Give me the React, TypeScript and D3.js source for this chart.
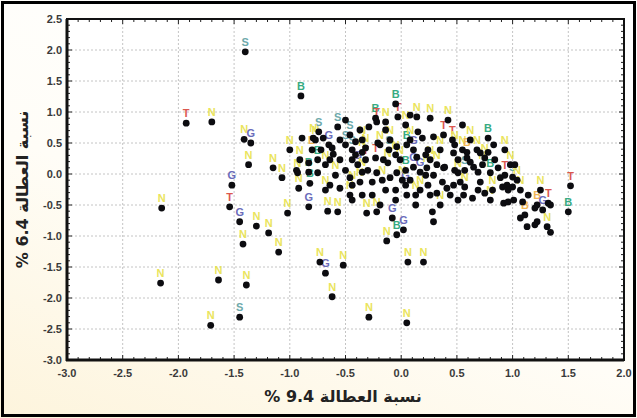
import React from "react";
import * as d3 from "d3";

// scatter values (x = 9.4 %, y = 6.4 %)
const ptX = [
  -1.4, -0.9, -1.93, -1.7, -1.41, -1.35, -1.37, -1.15, -1.07, -1.52, -1.54, -1.45, -1.3, -1.19, -1.1, -1.42,
  -1.39, -1.45, -1.64, -1.71, -2.16, -2.15, -0.92, -0.82, -0.83, -0.05, -0.03, -0.23, -0.22, -0.57, -0.29, -0.74,
  -0.79, -0.46, -0.35, -0.19, -0.1, 0.14, 0.15, 0.29, 0.38, 0.42, 0.46, -0.77, -0.7, -0.65, -0.62, -0.61,
  -0.5, -0.41, -0.44, -0.41, -0.35, -0.23, -0.21, -0.11, -0.04, 0.05, 0.11, 0.19, 0.22, 0.32, 0.38, 0.47,
  -0.39, -0.44, -0.32, -0.22, -0.12, -0.04, 0.04, 0.11, 0.14, 0.23, 0.29, 0.37, 0.47, 0.41, -0.83, -0.75,
  -0.8, -0.83, -0.93, -0.75, -0.59, -0.55, -0.44, -0.37, -0.17, -0.14, 0.04, 0.05, 0.24, 0.26, 0.32, -0.66,
  -0.57, -0.44, -0.35, -0.31, -0.22, -0.08, -0.04, 0.02, -0.13, 0.06, 0.2, 0.28, 0.29, -0.52, -0.68, -0.62,
  -0.29, 0.05, -0.73, -1.02, 0.55, 0.59, 0.59, 0.62, 0.65, 0.68, 0.71, 0.78, 0.78, 0.83, 0.51, 0.57,
  0.48, 0.39, 0.53, 0.57, 0.56, 0.64, 0.69, 0.71, 0.75, 0.82, 0.8, 0.89, 0.91, 0.93, 0.98, 1.0,
  0.95, 1.0, 0.96, 1.07, 0.92, 0.96, 1.01, 1.09, 1.07, 1.13, 1.11, 1.22, 1.27, 1.32, 1.2, 1.22,
  1.2, 1.34, 1.31, 1.34, 1.52, 1.5, -0.55, -0.68, -0.5, -0.3, -0.1, -0.01, 0.08, 0.17, -0.05, 0.13,
  -0.26, -0.64, -0.37, -0.14, 0.04, 0.24, 0.35, 0.51, 0.73, 0.84, 0.44, 0.22,
  -0.72, -0.91, -0.55, -0.32, -0.16, -0.05, 0.08, 0.26, 0.17, 0.48, 0.62, 0.75, 0.87, 1.04, 1.14, -0.46,
  -0.35, -0.26, 0.01, -0.05, 0.13, 0.35, 0.51, 0.69, 0.8, -0.64, -0.68, -0.46, -0.19, -0.89, -1.0, -0.94,
  -0.5, 0.08, -0.14, 0.26, 0.55, 0.93, 1.02, 1.25,
];
const ptY = [
  1.97, 1.26, 0.82, 0.84, 0.56, 0.5, 0.15, 0.1, -0.06, -0.18, -0.53, -0.77, -0.84, -0.95, -1.26, -1.13,
  -1.79, -2.31, -1.71, -2.44, -1.76, -0.55, -0.23, -0.15, -0.53, 1.13, 0.92, 0.9, 0.84, 0.76, 0.76, 0.68,
  0.58, 0.63, 0.55, 0.47, 0.55, 0.92, 0.68, 0.6, 0.63, 0.87, 0.55, 0.55, 0.58, 0.47, 0.42, 0.32,
  0.47, 0.52, 0.39, 0.31, 0.35, 0.26, 0.5, 0.39, 0.44, 0.47, 0.39, 0.58, 0.31, 0.15, 0.1, 0.34,
  0.15, 0.23, 0.23, 0.02, 0.18, 0.02, 0.06, 0.11, 0.27, 0.1, -0.02, -0.13, -0.18, -0.23, 0.18, 0.23,
  0.39, 0.03, 0.02, 0.02, -0.02, -0.23, -0.18, -0.13, -0.1, -0.26, -0.18, -0.34, -0.18, -0.34, -0.31, -0.6,
  -0.61, -0.42, -0.34, -0.63, -0.61, -0.71, -0.98, -0.9, -1.08, -1.42, -1.42, -0.61, -0.77, -1.47, -1.6, -1.98,
  -2.31, -2.4, -1.42, -0.63, 0.39, 0.35, 0.26, 0.19, 0.11, 0.39, 0.34, 0.35, 0.58, 0.47, 0.02, 0.06,
  0.06, 0.11, -0.13, -0.21, -0.34, -0.39, 0.03, -0.13, -0.31, -0.26, 0.02, -0.06, -0.21, -0.02, 0.15, -0.05,
  -0.18, -0.21, -0.26, -0.26, -0.47, -0.45, -0.42, -0.45, -0.71, -0.85, -0.66, -0.5, -0.58, -0.47, -0.55, -0.77,
  -0.82, -0.5, -0.85, -0.94, -0.19, -0.61, 0.23, 0.15, 0.06, 0.06, -0.06, 0.23, -0.1, -0.26, -0.42, -0.5,
  -0.34, -0.18, 0.71, 0.71, 0.79, 0.39, 0.39, 0.23, 0.15, 0.23, -0.34, -0.02,
  0.39, 0.23, 0.55, 0.42, 0.23, 0.31, 0.55, 0.23, 0.03, 0.47, 0.55, 0.26, 0.1, -0.1, -0.34, -0.06,
  0.03, -0.13, -0.1, -0.26, -0.34, -0.5, -0.42, -0.26, -0.42, 0.23, -0.26, -0.34, -0.5, 0.58, 0.39, 0.06,
  0.87, 0.95, 0.84, 0.9, 0.79, 0.39, 0.15, -0.26,
];
const ptLabel = [
  "S", "B", "T", "N", "N", "G", "N", "N", "N", "G", "T", "G", "N", "N", "N", "N",
  "N", "S", "N", "N", "N", "N", "N", "B", "G", "B", "T", "B", "T", "S", "", "S",
  "N", "S", "N", "N", "N", "N", "", "", "T", "N", "T", "N", "", "G", "", "",
  "S", "", "S", "", "N", "T", "", "S", "", "B", "G", "", "", "N", "", "",
  "G", "", "T", "", "N", "", "B", "G", "", "N", "", "", "", "", "", "B",
  "E", "B", "N", "", "N", "", "N", "N", "N", "", "G", "", "", "", "", "N",
  "N", "", "", "N", "N", "G", "B", "G", "N", "N", "N", "", "", "N", "G", "N",
  "N", "N", "N", "N", "N", "E", "", "", "", "N", "", "", "B", "", "N", "S",
  "", "", "", "N", "", "", "", "", "", "N", "B", "", "", "T", "N", "S",
  "", "", "", "N", "", "", "", "", "", "", "E", "E", "G", "T", "", "",
  "", "", "N", "", "T", "B", "", "N", "", "", "", "N", "", "N", "", "",
  "", "", "", "", "N", "", "N", "", "N", "", "", "",
  "", "N", "", "N", "", "N", "N", "N", "G", "N", "N", "N", "", "N", "", "",
  "N", "", "N", "", "N", "N", "", "", "N", "", "N", "N", "", "", "N", "",
  "", "", "N", "N", "", "N", "", "N",
];

const xTicks = [-3.0, -2.5, -2.0, -1.5, -1.0, -0.5, 0.0, 0.5, 1.0, 1.5, 2.0];
const yTicks = [2.5, 2.0, 1.5, 1.0, 0.5, 0.0, -0.5, -1.0, -1.5, -2.0, -2.5, -3.0];

const xTitle = "% 9.4 نسبة العطالة";
const yTitle = "% 6.4 نسبة العطالة";

const labelColor: Record<string, string> = {
  T: "#d8463c",
  S: "#5e9fa2",
  B: "#22a274",
  G: "#5b5cb4",
  N: "#e8e24c",
  E: "#f0b044",
};

const W = 637;
const H = 418;
const margin = { top: 19, right: 13, bottom: 58, left: 67 };

export default function App() {
  const x = d3.scaleLinear().domain([-3, 2]).range([margin.left, W - margin.right]);
  const y = d3.scaleLinear().domain([-3, 2.5]).range([H - margin.bottom, margin.top]);
  const fmt = (v: number) => d3.format(".1f")(v).replace("\u2212", "-");

  const x0 = x.range()[0];
  const x1 = x.range()[1];
  const y0 = y.range()[0];
  const y1 = y.range()[1];

  const minorX = d3.range(-3, 2.0001, 0.1);
  const minorY = d3.range(-3, 2.5001, 0.1);

  const pts = ptX.map((v, i) => ({ x: v, y: ptY[i], l: ptLabel[i] }));

  return (
    <svg
      width={W}
      height={H}
      style={{ position: "fixed", left: 0, top: 0, display: "block" }}
    >
      <defs>
        <linearGradient id="bg" x1="0" y1="1" x2="0.6" y2="0">
          <stop offset="0" stopColor="#fdf4dc" />
          <stop offset="0.5" stopColor="#fffdf7" />
          <stop offset="1" stopColor="#ffffff" />
        </linearGradient>
      </defs>
      <rect x={0} y={0} width={W} height={H} fill="url(#bg)" />
      <rect x={2.5} y={2.5} width={W - 5} height={H - 5} fill="none" stroke="#000" strokeWidth={3} />
      <rect x={x0} y={y1} width={x1 - x0} height={y0 - y1} fill="#fff" />

      {/* grid */}
      <g stroke="#c4c4c4" strokeWidth={1} strokeDasharray="2,2">
        {xTicks.slice(1, -1).map((t) => (
          <line key={"gx" + t} x1={x(t)} x2={x(t)} y1={y1} y2={y0} />
        ))}
        {yTicks.slice(1, -1).map((t) => (
          <line key={"gy" + t} x1={x0} x2={x1} y1={y(t)} y2={y(t)} />
        ))}
      </g>

      {/* minor ticks, inside on all sides */}
      <g stroke="#222" strokeWidth={1}>
        {minorX.map((t, i) => (
          <g key={"mx" + i}>
            <line x1={x(t)} x2={x(t)} y1={y0} y2={y0 - (i % 5 === 0 ? 5 : 3)} />
            <line x1={x(t)} x2={x(t)} y1={y1} y2={y1 + (i % 5 === 0 ? 5 : 3)} />
          </g>
        ))}
        {minorY.map((t, i) => (
          <g key={"my" + i}>
            <line x1={x0} x2={x0 + (i % 5 === 0 ? 5 : 3)} y1={y(t)} y2={y(t)} />
            <line x1={x1} x2={x1 - (i % 5 === 0 ? 5 : 3)} y1={y(t)} y2={y(t)} />
          </g>
        ))}
      </g>

      {/* letter labels */}
      <g fontFamily="Liberation Sans, Arial, sans-serif" fontWeight="bold" fontSize={11} textAnchor="middle" opacity={0.9}>
        {pts
          .filter((p) => p.l !== "")
          .map((p, i) => (
            <text key={"l" + i} x={x(p.x)} y={y(p.y) - 6} fill={labelColor[p.l]}>
              {p.l === "E" ? "B" : p.l}
            </text>
          ))}
      </g>

      {/* points */}
      <g fill="#0c0c10">
        {pts.map((p, i) => (
          <circle key={"p" + i} cx={x(p.x)} cy={y(p.y)} r={3.4} />
        ))}
      </g>

      {/* frame */}
      <rect x={x0} y={y1} width={x1 - x0} height={y0 - y1} fill="none" stroke="#111" strokeWidth={2} />
      <line x1={x0} x2={x0} y1={y1} y2={y0 + 1} stroke="#111" strokeWidth={3} />
      <line x1={x0 - 1} x2={x1} y1={y0} y2={y0} stroke="#111" strokeWidth={3} />

      {/* tick labels */}
      <g fontFamily="Liberation Sans, Arial, sans-serif" fontWeight="bold" fontSize={11} fill="#3a3a3a">
        {xTicks.map((t) => (
          <text key={"tx" + t} x={x(t)} y={y0 + 17} textAnchor="middle">
            {fmt(t)}
          </text>
        ))}
        {yTicks.map((t) => (
          <text key={"ty" + t} x={x0 - 5} y={y(t) + 4} textAnchor="end">
            {fmt(t)}
          </text>
        ))}
      </g>

      {/* axis titles */}
      <text
        x={343}
        y={402}
        textAnchor="middle"
        fontFamily="DejaVu Sans, sans-serif"
        fontWeight="bold"
        fontSize={16}
        fill="#222"
      >
        {xTitle}
      </text>
      <text
        transform={`translate(28,${(y0 + y1) / 2}) rotate(-90)`}
        textAnchor="middle"
        fontFamily="DejaVu Sans, sans-serif"
        fontWeight="bold"
        fontSize={16}
        fill="#222"
      >
        {yTitle}
      </text>
    </svg>
  );
}
